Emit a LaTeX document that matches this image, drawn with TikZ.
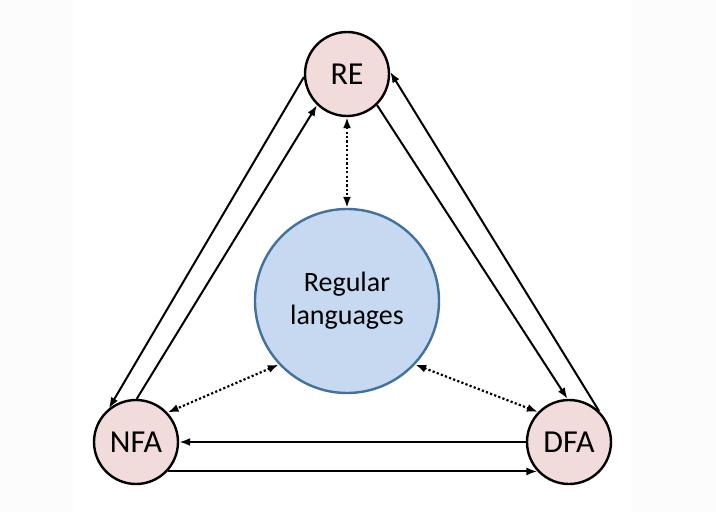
\documentclass[tikz,border=0pt]{standalone}
\usepackage{fontspec}
\setmainfont{Carlito}
\usetikzlibrary{arrows.meta}
\definecolor{pinkfill}{HTML}{F2DCDB}
\definecolor{bluefill}{HTML}{C6D9F1}
\definecolor{blueedge}{HTML}{41719C}
\definecolor{sidebg}{HTML}{FCFCFC}
\tikzset{
  state/.style={circle,draw=black,line width=2.4pt,fill=pinkfill,minimum size=84pt,inner sep=0pt,font=\fontsize{32}{34}\selectfont},
  lang/.style={circle,draw=blueedge,line width=2.4pt,fill=bluefill,minimum size=184pt,inner sep=0pt,align=center,font=\fontsize{28}{33}\selectfont},
  conv/.style={line width=2pt,-{Latex[length=11pt,width=8pt]}},
  rel/.style={line width=2.2pt,dash pattern=on 2.2pt off 2.2pt,{Latex[length=11pt,width=8pt]}-{Latex[length=11pt,width=8pt]}}
}
\begin{document}
\begin{tikzpicture}[x=1pt,y=-1pt]
\fill[sidebg] (0,0) rectangle (716,512);
\fill[white] (73,0) rectangle (631,512);
\useasboundingbox (0,0) rectangle (716,512);
\node[state] (re) at (347,74) {RE};
\node[state] (nfa) at (136,442) {NFA};
\node[state] (dfa) at (569,442) {DFA};
\node[lang] (rl) at (347,301) {Regular\\languages};
% RE <-> NFA
\draw[conv] (re.184) -- (nfa.129);
\draw[conv] (nfa.89) -- (re.226);
% RE <-> DFA
\draw[conv] (re.314) -- (dfa.92);
\draw[conv] (dfa.46) -- (re.3);
% NFA <-> DFA
\draw[conv] (dfa.180) -- (nfa.0);
\draw[conv] (nfa.317) -- (dfa.223);
% dotted relations
\draw[rel] (re.south) -- (rl.north);
\draw[rel] (rl.223) -- (nfa.43);
\draw[rel] (rl.317) -- (dfa.136);
\end{tikzpicture}
\end{document}
